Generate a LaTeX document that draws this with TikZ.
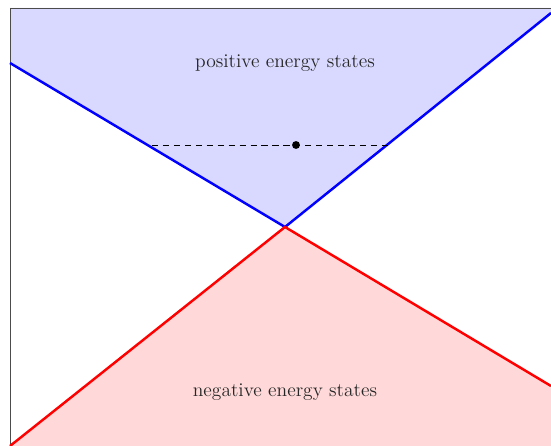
\documentclass[tikz,border=0pt]{standalone}
\begin{document}
\begin{tikzpicture}[x=0.02cm,y=-0.02cm,
  cone/.style={line width=1.4pt},
  frameline/.style={draw=black!70,line width=0.5pt},
  label/.style={text=black!85,inner sep=0pt,font=\fontsize{11.1}{13}\selectfont}]
\useasboundingbox (0,0) rectangle (551,446);
\coordinate (v) at (285,227);
\coordinate (bl) at (10,63);
\coordinate (br) at (551,13);
\coordinate (rl) at (10,446);
\coordinate (rr) at (551,386);
\fill[blue!15] (10,8) -- (551,8) -- (br) -- (v) -- (bl) -- cycle;
\fill[red!15] (rl) -- (v) -- (rr) -- (551,446) -- cycle;
\draw[frameline] (10,446) -- (10,8) -- (551,8);
\draw[cone,blue] (bl) -- (v) -- (br);
\draw[cone,red] (rl) -- (v) -- (rr);
\coordinate (dl) at (152,145);
\coordinate (dr) at (388,145);
\draw[dash pattern=on 3.5pt off 2.73pt,line width=0.5pt] (dl) -- (dr);
\node[circle,fill=black,inner sep=0pt,minimum size=4.5pt] (dot) at (296,145) {};
\node[label] (pos) at (285,63) {positive energy states};
\node[label] (neg) at (285,392) {negative energy states};
\end{tikzpicture}
\end{document}
